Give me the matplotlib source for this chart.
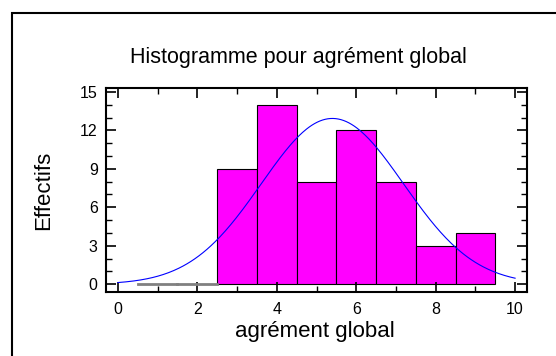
import numpy as np
import matplotlib
matplotlib.use("Agg")
from matplotlib import pyplot as plt
from matplotlib.patches import Rectangle
from matplotlib.ticker import MultipleLocator

# effectifs par classe (centres 1..9, largeur 1)
centres = [1, 2, 3, 4, 5, 6, 7, 8, 9]
effectifs = [0, 0, 9, 14, 8, 12, 8, 3, 4]
largeur = 1.0

# loi normale ajustée
moyenne = 5.4
ecart_type = 1.79

plt.rcParams['font.family'] = ['Liberation Sans', 'DejaVu Sans']

fig = plt.figure(figsize=(5.56, 3.56), dpi=100)
# cadre extérieur
fig.patches.append(Rectangle((12 / 556, -0.1), 1.0, 1 - 13 / 356 + 0.1,
                             transform=fig.transFigure, fill=False,
                             edgecolor='black', linewidth=1.5))

ax = fig.add_axes([106 / 556, 1 - 292 / 356, 421 / 556, 204 / 356])

for c, n in zip(centres, effectifs):
    if n > 0:
        ax.bar(c, n, width=largeur, color='#ff00ff', edgecolor='black', linewidth=0.8)
    else:
        ax.plot([c - largeur / 2, c + largeur / 2], [0, 0], color='#808080', linewidth=2)

total = sum(effectifs)
x = np.linspace(0, 10, 300)
y = total * largeur / (ecart_type * np.sqrt(2 * np.pi)) * np.exp(-(x - moyenne) ** 2 / (2 * ecart_type ** 2))
ax.plot(x, y, color='#0000ff', linewidth=0.8)

ax.set_xlim(-0.3, 10.3)
ax.set_ylim(-0.6, 15.3)
ax.xaxis.set_major_locator(MultipleLocator(2))
ax.xaxis.set_minor_locator(MultipleLocator(1))
ax.yaxis.set_major_locator(MultipleLocator(3))
ax.yaxis.set_minor_locator(MultipleLocator(1))
ax.tick_params(which='both', direction='in', top=True, right=True, labelsize=11.5)
ax.tick_params(which='major', length=7, width=1.2)
ax.tick_params(which='minor', length=4, width=1)
ax.tick_params(axis='x', which='major', pad=7)
ax.tick_params(axis='y', which='major', pad=6)
for s in ax.spines.values():
    s.set_linewidth(1.5)

fig.text(298 / 556, 1 - 63 / 356, "Histogramme pour agrément global",
         fontsize=15.5, ha='center', va='baseline')
fig.text(315 / 556, 1 - 337 / 356, "agrément global",
         fontsize=16, ha='center', va='baseline')
fig.text(44 / 556, 1 - 190 / 356, "Effectifs", fontsize=16,
         rotation=90, ha='center', va='center')

fig.savefig("out.png", dpi=100)
